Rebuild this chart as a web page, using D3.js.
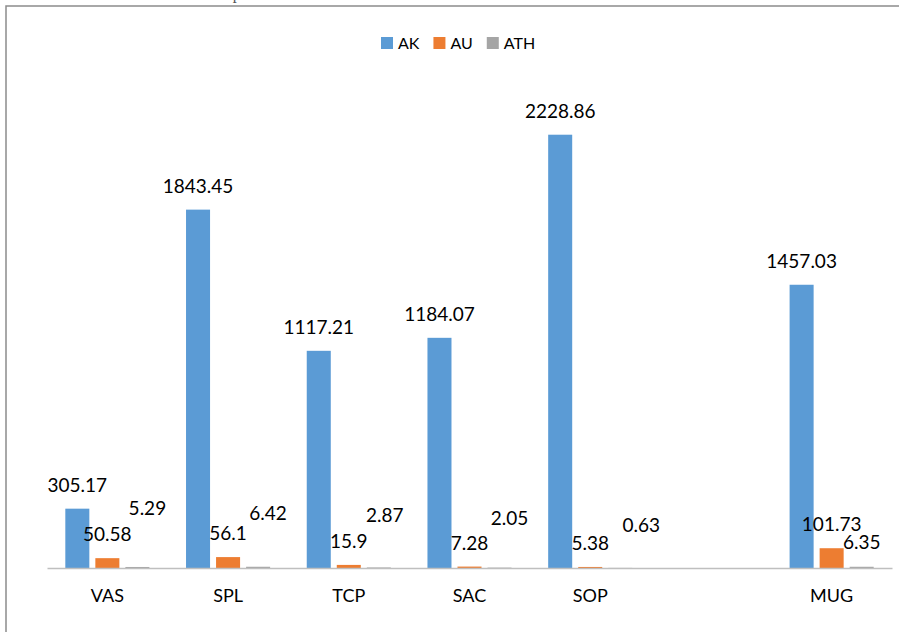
<!DOCTYPE html>
<html>
<head>
<meta charset="utf-8">
<script src="https://cdn.jsdelivr.net/npm/d3@7"></script>
<style>
  body { margin: 0; background: #fff; }
  svg { display: block; font-family: Lato, "Open Sans", sans-serif; }
</style>
</head>
<body>
<figure id="bars" style="margin:0"></figure>
<script>
// chart data
const categories = ["VAS", "SPL", "TCP", "SAC", "SOP", " ", "MUG"];
const series = ["AK", "AU", "ATH"];
const ak = [305.17, 1843.45, 1117.21, 1184.07, 2228.86, null, 1457.03];
const au = [50.58, 56.1, 15.9, 7.28, 5.38, null, 101.73];
const ath = [5.29, 6.42, 2.87, 2.05, 0.63, null, 6.35];
const yMax = 2500;

// hand-placed ATH labels in the original (nudges only)
const athLabelDx = [10, 10, 6, 10, 21, 0, 0];
const athLabelLift = [52, 47, 45, 43, 36, 0, 18];

const colors = { AK: "#5B9BD5", AU: "#ED7D31", ATH: "#A5A5A5" };
const values = { AK: ak, AU: au, ATH: ath };

const width = 899, height = 632;
const plotLeft = 47, plotRight = 892, plotTop = 82, plotBase = 568;

const svg = d3.select("figure#bars")
  .append("svg")
  .attr("width", width)
  .attr("height", height);

// line of document text above the chart, mostly cut off by the page edge
svg.append("text")
  .attr("x", 40).attr("y", -1.5)
  .attr("textLength", 480)
  .style("font-family", "'Liberation Serif', 'DejaVu Serif', serif")
  .style("font-size", "16px")
  .style("fill", "#555")
  .text("The data of table 3 is represented with a bar chart as below.");

// chart frame
svg.append("rect")
  .attr("x", 6).attr("y", 6)
  .attr("width", width + 10).attr("height", height + 10)
  .attr("fill", "#fff")
  .attr("stroke", "#8c8c8c")
  .attr("stroke-width", 1.5);

const x0 = d3.scaleBand()
  .domain(categories)
  .range([plotLeft, plotRight]);

const x1 = d3.scaleBand()
  .domain(series)
  .range([0, x0.bandwidth()])
  .paddingInner(0.2)
  .paddingOuter(0.61);

const y = d3.scaleLinear()
  .domain([0, yMax])
  .range([plotBase, plotTop]);

// Add bars
const rows = [];
categories.forEach((c, i) => {
  series.forEach(s => {
    if (values[s][i] != null) rows.push({ cat: c, i: i, s: s, v: values[s][i] });
  });
});

svg.append("g")
  .selectAll("rect")
  .data(rows)
  .enter()
  .append("rect")
  .attr("x", d => x0(d.cat) + x1(d.s))
  .attr("y", d => y(d.v))
  .attr("width", x1.bandwidth())
  .attr("height", d => plotBase - y(d.v))
  .attr("fill", d => colors[d.s]);

// X axis
const xAxis = svg.append("g")
  .attr("transform", "translate(0," + plotBase + ")")
  .call(d3.axisBottom(x0).tickSize(0).tickPadding(21).tickSizeOuter(0));
xAxis.select(".domain")
  .attr("stroke", "#BFBFBF")
  .attr("stroke-width", 1.5);
xAxis.selectAll("text")
  .style("font-family", "Lato, sans-serif")
  .style("font-size", "18px")
  .style("fill", "#000");

// Add labels
svg.append("g")
  .selectAll("text")
  .data(rows)
  .enter()
  .append("text")
  .attr("text-anchor", "middle")
  .attr("x", d => x0(d.cat) + x1(d.s) + x1.bandwidth() / 2 + (d.s === "ATH" ? athLabelDx[d.i] : 0))
  .attr("y", d => d.s === "ATH" ? y(d.v) - athLabelLift[d.i] : y(d.v) - 17)
  .style("font-size", "19px")
  .style("fill", "#000")
  .text(d => d.v);

// Legend
const legend = svg.append("g").attr("transform", "translate(381,37)");
let lx = 0;
series.forEach(s => {
  const g = legend.append("g").attr("transform", "translate(" + lx + ",0)");
  g.append("rect").attr("width", 12).attr("height", 12).attr("fill", colors[s]);
  const t = g.append("text")
    .attr("x", 17).attr("y", 12)
    .style("font-size", "16px")
    .style("fill", "#000")
    .text(s);
  lx += 17 + t.node().getComputedTextLength() + 14;
});
</script>
</body>
</html>
